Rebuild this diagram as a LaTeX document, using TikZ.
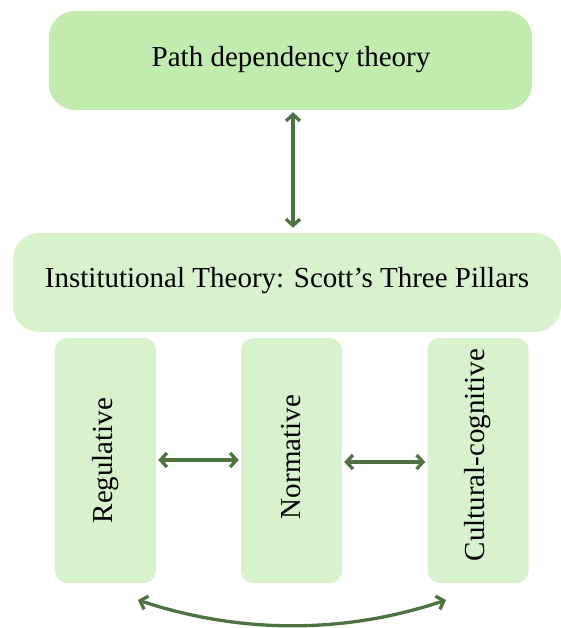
\documentclass[tikz,border=0pt]{standalone}
\usepackage{fontspec}
\setmainfont{Liberation Serif}
\usetikzlibrary{arrows.meta}
\definecolor{topgreen}{HTML}{C1EBAF}
\definecolor{lightgreen}{HTML}{D8F2CD}
\definecolor{arrowgreen}{HTML}{4F7340}
\tikzset{
  topbox/.style={fill=topgreen, draw=none, rounded corners=26pt, inner sep=0pt},
  midbox/.style={fill=lightgreen, draw=none, rounded corners=26pt, inner sep=0pt},
  pillar/.style={fill=lightgreen, draw=none, rounded corners=12pt, inner sep=0pt, minimum width=101pt, minimum height=245pt},
  lbl/.style={font=\fontsize{29}{34}\selectfont, text=black},
  conn/.style={draw=arrowgreen, line width=3.3pt, {Straight Barb[length=6.5pt,width=14pt]}-{Straight Barb[length=6.5pt,width=14pt]}}
}
\begin{document}
\begin{tikzpicture}[x=1pt,y=-1pt]
\useasboundingbox (0,0) rectangle (560,628);
\node[topbox, minimum width=483pt, minimum height=99pt] (top) at (290.5,60.5) {};
\node[lbl] at (291,60) {Path dependency theory};
\node[midbox, minimum width=548pt, minimum height=99pt] (mid) at (287,282.5) {};
\node[lbl] at (287,281) {Institutional Theory: Scott’s Three Pillars};
\node[pillar] (reg) at (105.5,460.5) {};
\node[pillar] (norm) at (291.5,460.5) {};
\node[pillar] (cult) at (478,460.5) {};
\node[lbl, rotate=90] at (reg.center) {Regulative};
\node[lbl, rotate=90] at (291,457) {Normative};
\node[lbl, rotate=90] at (477.5,455) {Cultural-cognitive};
\draw[conn] ([yshift=-2pt]top.south -| 293,0) -- ([yshift=5pt]mid.north -| 293,0);
\draw[conn] ([xshift=2pt]reg.east |- 0,460) -- ([xshift=-2pt]norm.west |- 0,460);
\draw[conn] ([xshift=2pt]norm.east |- 0,462) -- ([xshift=-2pt]cult.west |- 0,462);
\coordinate (cl) at (138,600);
\coordinate (cr) at (446,600);
\draw[conn] (cl) .. controls (240,634) and (345,634) .. (cr);
\end{tikzpicture}
\end{document}
